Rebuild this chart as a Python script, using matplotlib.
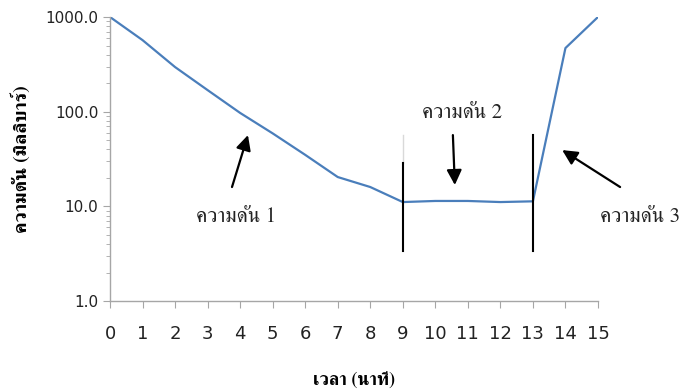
import numpy as np
import matplotlib
matplotlib.use("Agg")
import matplotlib.pyplot as plt
from matplotlib import font_manager
from matplotlib.ticker import FixedLocator, NullFormatter

# pressure (mbar) read every minute
time_min = [0, 1, 2, 3, 4, 5, 6, 7, 8, 9, 10, 11, 12, 13, 14, 15]
pressure = [1000, 570, 296, 169, 97, 59, 35, 20.4, 16, 11.1, 11.4, 11.4, 11.1, 11.3, 470, 1000]

y_ticks = [1, 10, 100, 1000]
y_tick_labels = ["1.0", "10.0", "100.0", "1000.0"]

# stage boundaries (minute, bottom, top)
boundaries = [(9, 3.37, 28.7), (13, 3.37, 56.6)]

stage_labels = ["ความดัน 1", "ความดัน 2", "ความดัน 3"]
stage_text_pos = [(3.87, 7.7), (10.82, 96), (15.05, 7.7)]
# arrow (tail, head) in data coords
stage_arrows = [((3.75, 16), (4.24, 56.6)),
                ((10.54, 56.6), (10.6, 16.8)),
                ((15.68, 16), (13.9, 39.3))]


def thai_font():
    """Find an installed font that has Thai glyphs."""
    try:
        from fontTools.ttLib import TTFont
    except ImportError:
        return None
    serif, sans = None, None
    for f in font_manager.fontManager.ttflist:
        try:
            tt = TTFont(f.fname, fontNumber=0, lazy=True)
            cmap = tt.getBestCmap()
        except Exception:
            continue
        if cmap and 0x0E04 in cmap and 0x0E14 in cmap:
            if "serif" in f.name.lower() and "sans" not in f.name.lower():
                serif = serif or f.name
            else:
                sans = sans or f.name
    return serif or sans


thai = thai_font()
families = ([thai] if thai else []) + ["DejaVu Sans"]

fig = plt.figure(figsize=(6.82, 3.92), dpi=100)
ax = fig.add_axes([0.1613, 0.2321, 0.7155, 0.7245])

ax.plot(time_min, pressure, color="#4a7ebb", linewidth=1.6)

ax.set_yscale("log")
ax.set_ylim(1, 1000)
ax.set_xlim(0, 15)

# faint guide above the first boundary
ax.plot([9, 9], [28.7, 56.6], color="#d9d9d9", linewidth=1)
for x, y0, y1 in boundaries:
    ax.plot([x, x], [y0, y1], color="black", linewidth=1.5)

for txt, (tx, ty) in zip(stage_labels, stage_text_pos):
    ha = "left" if tx >= 15 else "center"
    ax.text(tx, ty, txt, ha=ha, va="center", fontsize=15,
            family=families, color="#222222", clip_on=False)

for (x0, y0), (x1, y1) in stage_arrows:
    ax.annotate("", xy=(x1, y1), xytext=(x0, y0),
                arrowprops=dict(arrowstyle="-|>,head_length=0.9,head_width=0.45",
                                color="black", linewidth=1.6, shrinkA=0, shrinkB=0))

ax.set_xticks(time_min)
ax.set_xticklabels([str(t) for t in time_min], fontsize=13, family="DejaVu Sans")
ax.yaxis.set_major_locator(FixedLocator(y_ticks))
ax.set_yticklabels(y_tick_labels, fontsize=11, family="DejaVu Sans")
minor = [m * d for d in (1, 10, 100) for m in range(2, 10)]
ax.yaxis.set_minor_locator(FixedLocator(minor))
ax.yaxis.set_minor_formatter(NullFormatter())

ax.tick_params(axis="x", direction="out", length=5, color="#a6a6a6", pad=12, colors="#222222")
ax.tick_params(axis="y", which="major", direction="out", length=5, color="#a6a6a6", colors="#222222")
ax.tick_params(axis="y", which="minor", direction="out", length=3, color="#a6a6a6")
for s in ("top", "right"):
    ax.spines[s].set_visible(False)
for s in ("left", "bottom"):
    ax.spines[s].set_color("#a6a6a6")
    ax.spines[s].set_linewidth(1)

ax.set_ylabel("ความดัน (มิลลิบาร์)", fontsize=14, fontweight="bold", family=families, labelpad=10)
ax.set_xlabel("เวลา (นาที)", fontsize=13, fontweight="bold", family=families, labelpad=22)

fig.savefig("out.png", dpi=100)
